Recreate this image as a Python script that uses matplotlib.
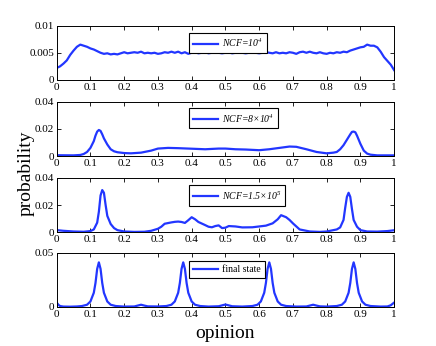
import numpy as np
import matplotlib.pyplot as plt

plt.rcParams['font.family'] = 'Liberation Serif'
plt.rcParams['mathtext.fontset'] = 'custom'
plt.rcParams['mathtext.it'] = 'Liberation Serif:italic'
plt.rcParams['mathtext.rm'] = 'Liberation Serif:italic'

# panel 1: NCF = 10^4
x1 = np.round(np.arange(0, 1.001, 0.01), 2)
y1 = [0.0022, 0.0025, 0.0030, 0.0036, 0.0046, 0.0054, 0.0061, 0.0065, 0.0063, 0.0061,
      0.0058, 0.0056, 0.0053, 0.0050, 0.0048, 0.0049, 0.0047, 0.0048, 0.0047, 0.0049,
      0.0051, 0.0049, 0.0050, 0.0051, 0.0050, 0.0052, 0.0049, 0.0050, 0.0049, 0.0050,
      0.0048, 0.0049, 0.0051, 0.0050, 0.0052, 0.0050, 0.0052, 0.0049, 0.0051, 0.0048,
      0.0050, 0.0051, 0.0049, 0.0050, 0.0051, 0.0049, 0.0050, 0.0051, 0.0050, 0.0049,
      0.0050, 0.0051, 0.0049, 0.0050, 0.0051, 0.0050, 0.0049, 0.0050, 0.0051, 0.0050,
      0.0049, 0.0050, 0.0051, 0.0050, 0.0049, 0.0051, 0.0049, 0.0050, 0.0049, 0.0051,
      0.0050, 0.0048, 0.0051, 0.0052, 0.0050, 0.0052, 0.0050, 0.0049, 0.0051, 0.0049,
      0.0048, 0.0050, 0.0049, 0.0051, 0.0050, 0.0052, 0.0051, 0.0054, 0.0056, 0.0058,
      0.0060, 0.0061, 0.0065, 0.0063, 0.0063, 0.0060, 0.0052, 0.0042, 0.0035, 0.0028,
      0.0018]

# panel 2: NCF = 8x10^4
x2 = [0, 0.05, 0.07, 0.08, 0.09, 0.10, 0.11, 0.115, 0.12, 0.125,
      0.13, 0.135, 0.14, 0.15, 0.16, 0.17, 0.18, 0.20, 0.22, 0.25,
      0.28, 0.30, 0.33, 0.36, 0.40, 0.44, 0.48, 0.50, 0.53, 0.56,
      0.60, 0.63, 0.66, 0.69, 0.71, 0.74, 0.77, 0.80, 0.82, 0.83,
      0.84, 0.85, 0.86, 0.87, 0.875, 0.88, 0.885, 0.89, 0.90, 0.91,
      0.92, 0.93, 0.95, 1.0]
y2 = [0.0006, 0.0005, 0.0008, 0.0015, 0.003, 0.006, 0.011, 0.015, 0.018, 0.0192,
      0.0185, 0.016, 0.013, 0.0085, 0.005, 0.0035, 0.0028, 0.0022, 0.002, 0.0025,
      0.004, 0.0055, 0.006, 0.0058, 0.0054, 0.005, 0.0055, 0.0055, 0.005, 0.0048,
      0.0043, 0.005, 0.006, 0.007, 0.0068, 0.005, 0.003, 0.002, 0.0025, 0.003,
      0.005, 0.008, 0.012, 0.016, 0.0178, 0.018, 0.0175, 0.015, 0.009, 0.004,
      0.0018, 0.001, 0.0005, 0.0005]

# panel 3: NCF = 1.5x10^5
x3 = [0, 0.02, 0.05, 0.08, 0.10, 0.11, 0.12, 0.125, 0.13, 0.135,
      0.14, 0.145, 0.15, 0.16, 0.17, 0.18, 0.20, 0.23, 0.26, 0.28,
      0.30, 0.31, 0.32, 0.34, 0.35, 0.36, 0.37, 0.38, 0.39, 0.40,
      0.41, 0.42, 0.44, 0.45, 0.46, 0.47, 0.48, 0.49, 0.50, 0.51,
      0.53, 0.55, 0.58, 0.60, 0.62, 0.64, 0.655, 0.665, 0.68, 0.69,
      0.70, 0.72, 0.75, 0.78, 0.80, 0.82, 0.83, 0.84, 0.85, 0.855,
      0.86, 0.865, 0.87, 0.875, 0.88, 0.89, 0.90, 0.92, 0.95, 0.98, 1.0]
y3 = [0.0015, 0.001, 0.0005, 0.0003, 0.0008, 0.002, 0.007, 0.015, 0.027, 0.031,
      0.029, 0.02, 0.012, 0.006, 0.003, 0.0015, 0.0005, 0.0002, 0.0003, 0.001,
      0.0025, 0.004, 0.0062, 0.0072, 0.0076, 0.0078, 0.0075, 0.0068, 0.0088, 0.011,
      0.0095, 0.0075, 0.0052, 0.004, 0.0036, 0.0045, 0.005, 0.003, 0.0033, 0.0045,
      0.0042, 0.0035, 0.0036, 0.0042, 0.0048, 0.0065, 0.0095, 0.0125, 0.011, 0.009,
      0.0065, 0.002, 0.0005, 0.0002, 0.0005, 0.0015, 0.002, 0.0035, 0.009, 0.018,
      0.026, 0.029, 0.026, 0.017, 0.009, 0.004, 0.0015, 0.0005, 0.0004, 0.0008, 0.0014]

# panel 4: final state
x4 = [0, 0.005, 0.01, 0.02, 0.04, 0.06, 0.075, 0.09, 0.1, 0.11,
      0.115, 0.12, 0.125, 0.13, 0.135, 0.14, 0.15, 0.16, 0.175, 0.2,
      0.23, 0.24, 0.25, 0.26, 0.27, 0.3, 0.325, 0.34, 0.35, 0.36,
      0.365, 0.37, 0.375, 0.38, 0.385, 0.39, 0.4, 0.41, 0.425, 0.45,
      0.48, 0.49, 0.5, 0.51, 0.52, 0.55, 0.58, 0.595, 0.605, 0.615,
      0.62, 0.625, 0.63, 0.635, 0.64, 0.645, 0.655, 0.665, 0.68, 0.71,
      0.74, 0.75, 0.76, 0.77, 0.78, 0.8, 0.83, 0.845, 0.855, 0.865,
      0.87, 0.875, 0.88, 0.885, 0.89, 0.895, 0.905, 0.915, 0.93, 0.96,
      0.98, 0.99, 1.0]
y4 = [0.004, 0.002, 0.0008, 0.0003, 0.0002, 0.0004, 0.0008, 0.002, 0.005, 0.013,
      0.022, 0.035, 0.041, 0.035, 0.022, 0.013, 0.005, 0.002, 0.0008, 0.0003,
      0.0004, 0.0012, 0.002, 0.0012, 0.0005, 0.0004, 0.0008, 0.002, 0.005, 0.013,
      0.022, 0.035, 0.041, 0.035, 0.022, 0.013, 0.005, 0.002, 0.0008, 0.0003,
      0.0006, 0.0014, 0.0022, 0.0014, 0.0006, 0.0003, 0.0008, 0.002, 0.005, 0.013,
      0.022, 0.035, 0.041, 0.035, 0.022, 0.013, 0.005, 0.002, 0.0008, 0.0003,
      0.0004, 0.0012, 0.002, 0.0012, 0.0005, 0.0003, 0.0008, 0.002, 0.005, 0.013,
      0.022, 0.035, 0.041, 0.035, 0.022, 0.013, 0.005, 0.002, 0.0008, 0.0003,
      0.0004, 0.0015, 0.004]

labels = ['NCF=10$^4$', 'NCF=8\u00d710$^4$', 'NCF=1.5\u00d710$^5$', 'final state']
ylims = [0.01, 0.04, 0.04, 0.05]
yticks = [[0, 0.005, 0.01], [0, 0.02, 0.04], [0, 0.02, 0.04], [0, 0.05]]
yticklabels = [['0', '0.005', '0.01'], ['0', '0.02', '0.04'], ['0', '0.02', '0.04'], ['0', '0.05']]
xticks = [0, 0.1, 0.2, 0.3, 0.4, 0.5, 0.6, 0.7, 0.8, 0.9, 1]
xticklabels = ['0', '0.1', '0.2', '0.3', '0.4', '0.5', '0.6', '0.7', '0.8', '0.9', '1']

fig = plt.figure(figsize=(4.36, 3.46), dpi=100)
bottoms = [0.769, 0.549, 0.329, 0.113]
leg_tops = [0.86, 0.88, 0.86, 0.84]
data = [(x1, y1), (x2, y2), (x3, y3), (x4, y4)]

for i in range(4):
    ax = fig.add_axes([0.130, bottoms[i], 0.774, 0.157])
    ax.plot(data[i][0], data[i][1], color='#2236ff', lw=1.6, label=labels[i])
    ax.set_xlim(0, 1)
    ax.set_ylim(0, ylims[i])
    ax.set_xticks(xticks)
    ax.set_xticklabels(xticklabels)
    ax.set_yticks(yticks[i])
    ax.set_yticklabels(yticklabels[i])
    ax.tick_params(direction='in', top=True, right=True, length=3, width=0.6,
                   labelsize=8, pad=2)
    for s in ax.spines.values():
        s.set_linewidth(0.7)
    leg = ax.legend(loc='upper left', bbox_to_anchor=(0.392, leg_tops[i]),
                    fancybox=False, edgecolor='black', framealpha=1,
                    fontsize=7, handlelength=2.6, borderpad=0.4,
                    handletextpad=0.4, borderaxespad=0)
    leg.get_frame().set_linewidth(0.8)
    for t in leg.get_texts():
        if i < 3:
            t.set_fontstyle('italic')

fig.text(0.06, 0.5, 'probability', rotation=90, fontsize=14, ha='center', va='center')
fig.text(0.517, 0.035, 'opinion', fontsize=14, ha='center', va='center')

fig.savefig('out.png', dpi=100)
